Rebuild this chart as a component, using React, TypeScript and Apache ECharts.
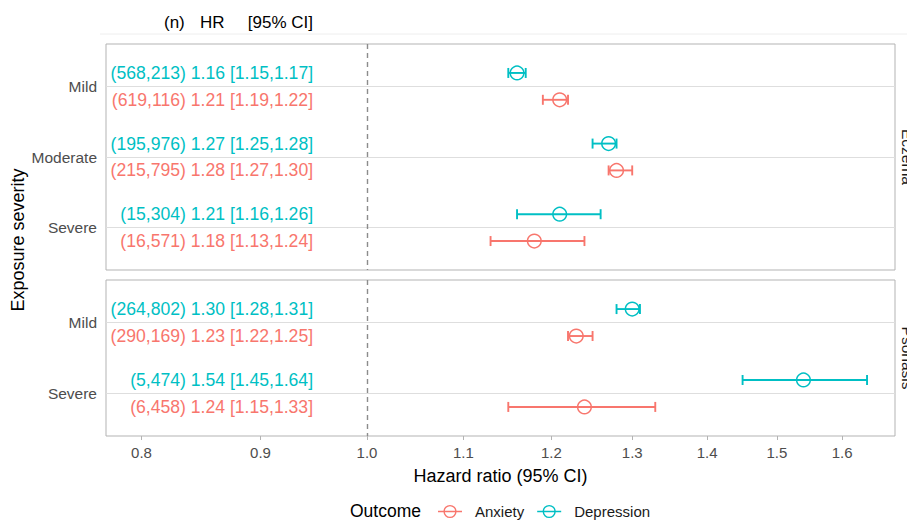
import React, { useEffect, useRef } from "react";
import * as echarts from "echarts";

// ---------- data ----------
const eczemaSeverity = ["Mild", "Moderate", "Severe"];
const psoriasisSeverity = ["Mild", "Severe"];
const panelNames = ["Eczema", "Psoriasis"];
const outcomeNames = ["Anxiety", "Depression"];

const eczemaAnxN = ["619,116", "215,795", "16,571"];
const eczemaAnxHR = [1.21, 1.28, 1.18];
const eczemaAnxLo = [1.19, 1.27, 1.13];
const eczemaAnxHi = [1.22, 1.3, 1.24];

const eczemaDepN = ["568,213", "195,976", "15,304"];
const eczemaDepHR = [1.16, 1.27, 1.21];
const eczemaDepLo = [1.15, 1.25, 1.16];
const eczemaDepHi = [1.17, 1.28, 1.26];

const psoAnxN = ["290,169", "6,458"];
const psoAnxHR = [1.23, 1.24];
const psoAnxLo = [1.22, 1.15];
const psoAnxHi = [1.25, 1.33];

const psoDepN = ["264,802", "5,474"];
const psoDepHR = [1.3, 1.54];
const psoDepLo = [1.28, 1.45];
const psoDepHi = [1.31, 1.64];

const xTicks = [0.8, 0.9, 1.0, 1.1, 1.2, 1.3, 1.4, 1.5, 1.6];
const refValue = 1.0;

// ---------- style constants ----------
const ANX = "#F8766D";
const DEP = "#00BFC4";
const FONT = "'Liberation Sans', Arial, Helvetica, sans-serif";
const X_MIN = 0.7724;
const X_MAX = 1.686;
const LABEL_X = 0.948;
const DODGE = 0.19;

const lg = (v: number) => Math.log10(v);
const fmt = (v: number) => v.toFixed(2);

function makeSeries(
  grid: number,
  name: string,
  color: string,
  n: string[],
  hr: number[],
  lo: number[],
  hi: number[],
  offset: number,
  extra: any = {}
) {
  const labels = hr.map((h, i) => `(${n[i]}) ${fmt(h)} [${fmt(lo[i])},${fmt(hi[i])}]`);
  return {
    type: "custom",
    name,
    xAxisIndex: grid,
    yAxisIndex: grid,
    itemStyle: { color },
    data: hr.map((h, i) => [lg(lo[i]), lg(hi[i]), lg(h), i + 1, i]),
    encode: { x: [0, 1, 2], y: 3 },
    renderItem: (params: any, api: any) => {
      const y = api.value(3) + offset;
      const pLo = api.coord([api.value(0), y]);
      const pHi = api.coord([api.value(1), y]);
      const pHr = api.coord([api.value(2), y]);
      const pTx = api.coord([lg(LABEL_X), y]);
      const idx = api.value(4);
      const cap = 5;
      const ls = { stroke: color, lineWidth: 1.9, fill: "none" };
      return {
        type: "group",
        children: [
          { type: "line", shape: { x1: pLo[0], y1: pLo[1], x2: pHi[0], y2: pHi[1] }, style: ls },
          { type: "line", shape: { x1: pLo[0], y1: pLo[1] - cap, x2: pLo[0], y2: pLo[1] + cap }, style: ls },
          { type: "line", shape: { x1: pHi[0], y1: pHi[1] - cap, x2: pHi[0], y2: pHi[1] + cap }, style: ls },
          {
            type: "circle",
            shape: { cx: pHr[0], cy: pHr[1], r: 6.8 },
            style: { fill: "none", stroke: color, lineWidth: 1.5 },
          },
          {
            type: "text",
            x: pTx[0],
            y: pTx[1],
            style: {
              text: labels[idx],
              fill: color,
              fontSize: 17.6,
              fontFamily: FONT,
              align: "right",
              verticalAlign: "middle",
              textAlign: "right",
              textVerticalAlign: "middle",
            },
          },
        ],
      };
    },
    ...extra,
  };
}

function refLines(cats: string[]) {
  return {
    silent: true,
    symbol: "none",
    label: { show: false },
    animation: false,
    data: [
      ...cats.map((_, i) => ({ yAxis: i + 1, lineStyle: { color: "#DEDEDE", width: 1, type: "solid" } })),
      { xAxis: lg(refValue), lineStyle: { color: "#8C8C8C", width: 1.4, type: [5, 4] } },
    ],
  };
}

function yAxis(grid: number, cats: string[]) {
  const vals = cats.map((_, i) => i + 1);
  return {
    type: "value",
    gridIndex: grid,
    inverse: true,
    min: 0.4,
    max: cats.length + 0.6,
    axisLine: { show: false },
    splitLine: { show: false },
    axisTick: { show: true, length: 4, customValues: vals, lineStyle: { color: "#B3B3B3" } },
    axisLabel: {
      customValues: vals,
      formatter: (v: number) => cats[Math.round(v) - 1] ?? "",
      fontSize: 15.5,
      color: "#4D4D4D",
      fontFamily: FONT,
      margin: 9,
    },
  };
}

const legendIcon =
  "path://M0 6.2L24 6.2L24 7.8L0 7.8Z M18.6 7A6.6 6.6 0 1 1 5.4 7A6.6 6.6 0 1 1 18.6 7Z M17.2 7A5.2 5.2 0 1 0 6.8 7A5.2 5.2 0 1 0 17.2 7Z";

export default function App() {
  const ref = useRef<HTMLDivElement>(null);
  useEffect(() => {
    if (!ref.current) return;
    const chart = echarts.init(ref.current, undefined, { renderer: "svg" });
    const tickVals = xTicks.map(lg);
    const option: any = {
      animation: false,
      backgroundColor: "#ffffff",
      textStyle: { fontFamily: FONT },
      grid: [
        { left: 106, right: 12, top: 44, height: 226, show: true, borderColor: "#B3B3B3", borderWidth: 1, backgroundColor: "transparent" },
        { left: 106, right: 12, top: 280, height: 156, show: true, borderColor: "#B3B3B3", borderWidth: 1, backgroundColor: "transparent" },
      ],
      xAxis: [
        {
          type: "value",
          gridIndex: 0,
          min: lg(X_MIN),
          max: lg(X_MAX),
          axisLine: { show: false },
          axisTick: { show: false },
          axisLabel: { show: false },
          splitLine: { show: false },
        },
        {
          type: "value",
          gridIndex: 1,
          min: lg(X_MIN),
          max: lg(X_MAX),
          axisLine: { show: false },
          splitLine: { show: false },
          axisTick: { show: true, length: 4, customValues: tickVals, lineStyle: { color: "#B3B3B3" } },
          axisLabel: {
            customValues: tickVals,
            formatter: (v: number) => Math.pow(10, v).toFixed(1),
            fontSize: 15,
            color: "#4D4D4D",
            fontFamily: FONT,
            margin: 9,
          },
          name: "Hazard ratio (95% CI)",
          nameLocation: "middle",
          nameGap: 31,
          nameTextStyle: { fontSize: 18, color: "#000000", fontFamily: FONT },
        },
      ],
      yAxis: [yAxis(0, eczemaSeverity), yAxis(1, psoriasisSeverity)],
      legend: {
        data: outcomeNames,
        left: 438,
        top: 504,
        padding: 0,
        icon: legendIcon,
        itemWidth: 24,
        itemHeight: 14,
        itemGap: 13,
        itemStyle: { borderWidth: 0 },
        textStyle: { fontSize: 15, color: "#1A1A1A", fontFamily: FONT, padding: [0, 0, 0, 8] },
      },
      series: [
        makeSeries(0, outcomeNames[0], ANX, eczemaAnxN, eczemaAnxHR, eczemaAnxLo, eczemaAnxHi, DODGE, {
          markLine: refLines(eczemaSeverity),
        }),
        makeSeries(0, outcomeNames[1], DEP, eczemaDepN, eczemaDepHR, eczemaDepLo, eczemaDepHi, -DODGE),
        makeSeries(1, outcomeNames[0], ANX, psoAnxN, psoAnxHR, psoAnxLo, psoAnxHi, DODGE, {
          markLine: refLines(psoriasisSeverity),
        }),
        makeSeries(1, outcomeNames[1], DEP, psoDepN, psoDepHR, psoDepLo, psoDepHi, -DODGE),
      ],
      graphic: [
        { type: "line", shape: { x1: 100, y1: 34, x2: 907, y2: 34 }, style: { stroke: "#EEEEEE", lineWidth: 1 } },
        { type: "text", x: 164, y: 22, style: { text: "(n)", fontSize: 17, fill: "#000", fontFamily: FONT, textAlign: "left", textVerticalAlign: "middle" } },
        { type: "text", x: 200, y: 22, style: { text: "HR", fontSize: 17, fill: "#000", fontFamily: FONT, textAlign: "left", textVerticalAlign: "middle" } },
        { type: "text", x: 313, y: 22, style: { text: "[95% CI]", fontSize: 17, fill: "#000", fontFamily: FONT, textAlign: "right", textVerticalAlign: "middle" } },
        {
          type: "text",
          x: 18,
          y: 240,
          rotation: Math.PI / 2,
          style: { text: "Exposure severity", fontSize: 18, fill: "#000", fontFamily: FONT, textAlign: "center", textVerticalAlign: "middle" },
        },
        {
          type: "text",
          x: 899,
          y: 157,
          rotation: -Math.PI / 2,
          style: { text: panelNames[0], fontSize: 15.5, fill: "#1A1A1A", fontFamily: FONT, textAlign: "center", textVerticalAlign: "bottom" },
        },
        {
          type: "text",
          x: 899,
          y: 358,
          rotation: -Math.PI / 2,
          style: { text: panelNames[1], fontSize: 15.5, fill: "#1A1A1A", fontFamily: FONT, textAlign: "center", textVerticalAlign: "bottom" },
        },
        { type: "text", x: 350, y: 511, style: { text: "Outcome", fontSize: 17.5, fill: "#000", fontFamily: FONT, textAlign: "left", textVerticalAlign: "middle" } },
      ],
    };
    chart.setOption(option);
    return () => chart.dispose();
  }, []);
  return <div ref={ref} style={{ position: "fixed", left: 0, top: 0, width: 907, height: 521 }} />;
}
